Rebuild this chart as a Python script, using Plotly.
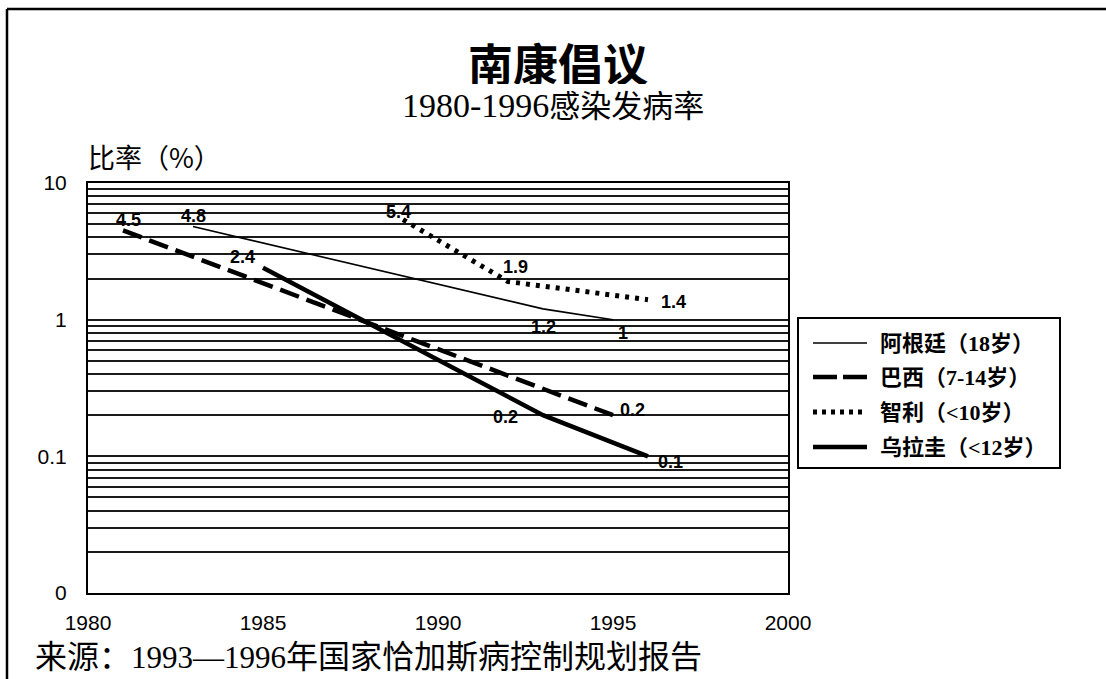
import math
import plotly.graph_objects as go

# ---- data -------------------------------------------------------------
series_names = ["阿根廷（18岁）", "巴西（7-14岁）", "智利（<10岁）", "乌拉圭（<12岁）"]

years_argentina = [1983, 1993, 1995]
rate_argentina = [4.8, 1.2, 1.0]

years_brazil = [1981, 1995]
rate_brazil = [4.5, 0.2]

years_chile = [1989, 1992, 1996]
rate_chile = [5.4, 1.9, 1.4]

years_uruguay = [1985, 1993, 1996]
rate_uruguay = [2.4, 0.2, 0.1]

x_ticks = [1980, 1985, 1990, 1995, 2000]
y_major_ticks = [0.01, 0.1, 1, 10]
y_major_text = ["0", "0.1", "1", "10"]

# ---- styling ------------------------------------------------------------
W, H = 1106, 679
L, R, T, B = 88, 318, 183, 86
PW, PH = W - L - R, H - T - B

def px_x(px):
    return (px - L) / PW

def px_y(py):
    return (H - B - py) / PH

LABEL_FONT = dict(family="Arial, Liberation Sans", size=18, color="black", weight="bold")
SERIF_CJK = "Liberation Serif, Noto Sans CJK SC"

series = [
    dict(x=years_argentina, y=rate_argentina, width=1.6, dash="solid",
         legend_dash="solid", legend_width=1.6,
         offsets=[(0, 11), (0, -18), (10, -13)]),
    dict(x=years_brazil, y=rate_brazil, width=4.5, dash="20px,8px",
         legend_dash="24px,6px", legend_width=4.5,
         offsets=[(5, 10), (19, 5)]),
    dict(x=years_chile, y=rate_chile, width=5, dash="4px,6px",
         legend_dash="4px,5px", legend_width=5,
         offsets=[(-5, 8), (7, 15), (25, -2)]),
    dict(x=years_uruguay, y=rate_uruguay, width=4.5, dash="solid",
         legend_dash="solid", legend_width=4.5,
         offsets=[(-21, 11), (-38, -2), (22, -6)]),
]

fig = go.Figure()

annotations = []
for name, s in zip(series_names, series):
    fig.add_trace(go.Scatter(
        x=s["x"], y=s["y"], mode="lines", name=name,
        line=dict(color="black", width=s["width"], dash=s["dash"]),
        showlegend=False,
    ))
    # value labels (annotation positions on a log axis are given in log10 units)
    for xv, yv, (dx, dy) in zip(s["x"], s["y"], s["offsets"]):
        annotations.append(dict(
            x=xv, y=math.log10(yv), xref="x", yref="y", text=f"{yv:g}",
            showarrow=False, xshift=dx, yshift=dy, font=LABEL_FONT,
            xanchor="center", yanchor="middle",
        ))

# log-scale gridlines at every 1..9 multiple
grid_vals = [m * 10 ** e for e in (-2, -1, 0) for m in range(1, 10)] + [10]
grid_text = []
for v in grid_vals:
    match = [t for t, mv in zip(y_major_text, y_major_ticks) if abs(mv - v) < 1e-9]
    grid_text.append(match[0] if match else "")

def note(px, py, text, font, xanchor="center", yanchor="middle", height=None):
    a = dict(x=px_x(px), y=px_y(py), xref="paper", yref="paper", text=text,
             showarrow=False, xanchor=xanchor, yanchor=yanchor, font=font)
    if height:
        a["height"] = height
        a["valign"] = "middle"
    return a

annotations += [
    note(558, 62, "<b>南康倡议</b>",
         dict(family="Noto Sans CJK SC", size=45, color="black"), height=44),
    note(553, 105, "<span style='font-size:34px'>1980-1996</span>感染发病率",
         dict(family=SERIF_CJK, size=31, color="black"), height=36),
    note(86, 157, "比率（%）",
         dict(family="Noto Sans CJK SC", size=27, color="black"), xanchor="left"),
    note(33, 657, "来源：<span style='font-size:31px'>1993—1996</span>年国家恰加斯病控制规划报告",
         dict(family=SERIF_CJK, size=32, color="black"), xanchor="left"),
]

shapes = [
    # outer frame (top and left edges)
    dict(type="line", xref="paper", yref="paper", x0=px_x(7), x1=px_x(W + 5),
         y0=px_y(9), y1=px_y(9), line=dict(color="black", width=2.5)),
    dict(type="line", xref="paper", yref="paper", x0=px_x(7), x1=px_x(7),
         y0=px_y(9), y1=px_y(H + 5), line=dict(color="black", width=2.5)),
    # legend box
    dict(type="rect", xref="paper", yref="paper", x0=px_x(798), x1=px_x(1060),
         y0=px_y(318), y1=px_y(468), line=dict(color="black", width=2),
         fillcolor="white"),
]

legend_rows = [343, 377, 412, 447]
for name, s, ry in zip(series_names, series, legend_rows):
    shapes.append(dict(type="line", xref="paper", yref="paper",
                       x0=px_x(813), x1=px_x(867), y0=px_y(ry), y1=px_y(ry),
                       line=dict(color="black", width=s["legend_width"], dash=s["legend_dash"])))
    annotations.append(note(878, ry, name,
                            dict(family=SERIF_CJK, size=22, color="black", weight=600),
                            xanchor="left"))

fig.update_layout(
    width=W, height=H,
    margin=dict(l=L, r=R, t=T, b=B),
    paper_bgcolor="white", plot_bgcolor="white",
    showlegend=False,
    annotations=annotations,
    shapes=shapes,
    xaxis=dict(
        range=[1980, 2000], tickvals=x_ticks, ticktext=[str(v) for v in x_ticks],
        showgrid=False, zeroline=False, showline=True, mirror=True,
        linecolor="black", linewidth=2, ticks="", ticklabelstandoff=10,
        tickfont=dict(family="Arial, Liberation Sans", size=21, color="black"),
    ),
    yaxis=dict(
        type="log", range=[-2, 1], tickvals=grid_vals, ticktext=grid_text,
        showgrid=True, gridcolor="#1a1a1a", gridwidth=1.5, zeroline=False,
        showline=True, mirror=True, linecolor="black", linewidth=2,
        ticks="", ticklabelstandoff=15,
        tickfont=dict(family="Arial, Liberation Sans", size=21, color="black"),
    ),
)

fig.write_html("out.html")
